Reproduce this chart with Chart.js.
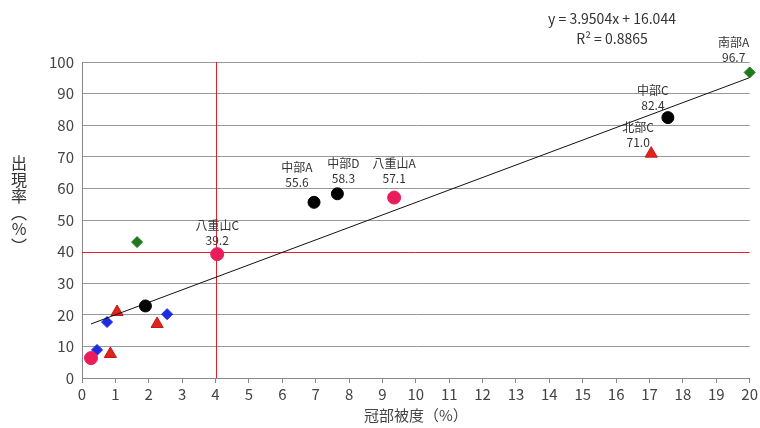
<!DOCTYPE html>
<html lang="ja">
<head>
  <meta charset="UTF-8">
  <title>冠部被度と出現率</title>
  <style>
    body { margin: 0; background: #fff; }
    #wrap { width: 760px; height: 428px; position: relative; }
  </style>
</head>
<body>
  <div id="wrap"><canvas id="scatter"></canvas></div>
  <script src="https://cdn.jsdelivr.net/npm/chart.js"></script>
  <script>
    // values
    const blackX = [1.9, 6.95, 7.65, 17.55];
    const blackY = [22.8, 55.6, 58.3, 82.4];
    const blackNames = ['', '中部A', '中部D', '中部C'];
    const pinkX = [0.27, 4.05, 9.35];
    const pinkY = [6.3, 39.2, 57.1];
    const pinkNames = ['', '八重山C', '八重山A'];
    const redX = [0.85, 1.05, 2.25, 17.05];
    const redY = [7.6, 20.9, 17.1, 71.0];
    const redNames = ['', '', '', '北部C'];
    const blueX = [0.45, 0.75, 2.55];
    const blueY = [8.9, 17.7, 20.2];
    const greenX = [1.65, 20];
    const greenY = [43.0, 96.7];
    const greenNames = ['', '南部A'];
    const slope = 3.9504, intercept = 16.044, r2 = 0.8865;
    const coverLine = 4, rateLine = 40;

    const FONT = '"Noto Sans CJK JP", "Noto Sans", sans-serif';
    const pts = (xs, ys) => xs.map((x, i) => ({ x: x, y: ys[i] }));
    const allX = [].concat(blackX, pinkX, redX, blueX, greenX);
    const x0 = Math.min(...allX), x1 = Math.max(...allX);

    // where each label sits relative to its point (px)
    const labelPos = {
      '南部A': [-16, -30], '中部C': [-15, -27], '北部C': [-13, -26],
      '中部A': [-17, -35], '中部D': [6, -30], '八重山A': [0, -34], '八重山C': [0, -29]
    };

    // red threshold lines, drawn under the marks
    const refLines = {
      id: 'refLines',
      beforeDatasetsDraw(chart) {
        const ctx = chart.ctx, xs = chart.scales.x, ys = chart.scales.y;
        ctx.save();
        ctx.strokeStyle = '#e0202a';
        ctx.lineWidth = 1;
        const vx = Math.round(xs.getPixelForValue(coverLine)) + 0.5;
        const hy = Math.round(ys.getPixelForValue(rateLine)) + 0.5;
        ctx.beginPath();
        ctx.moveTo(vx, ys.getPixelForValue(0));
        ctx.lineTo(vx, ys.getPixelForValue(100));
        ctx.moveTo(xs.getPixelForValue(0), hy);
        ctx.lineTo(xs.getPixelForValue(20), hy);
        ctx.stroke();
        ctx.restore();
      }
    };

    const pointLabels = {
      id: 'pointLabels',
      afterDatasetsDraw(chart) {
        const ctx = chart.ctx;
        ctx.save();
        ctx.fillStyle = '#333';
        ctx.textAlign = 'center';
        ctx.textBaseline = 'middle';
        ctx.font = '12px ' + FONT;
        chart.data.datasets.forEach((ds, di) => {
          if (!ds.names) return;
          chart.getDatasetMeta(di).data.forEach((el, i) => {
            const n = ds.names[i];
            if (!n) return;
            const off = labelPos[n] || [0, -28];
            ctx.fillText(n, el.x + off[0], el.y + off[1]);
            ctx.fillText(ds.data[i].y.toFixed(1), el.x + off[0], el.y + off[1] + 15);
          });
        });
        // regression text
        ctx.font = '14px ' + FONT;
        ctx.fillText('y = ' + slope + 'x + ' + intercept.toFixed(3), 612, 19);
        ctx.fillText('R² = ' + r2, 612, 39);
        // vertical y title
        ctx.font = '16px ' + FONT;
        ['出', '現', '率', '︵', '%', '︶'].forEach((c, i) => {
          ctx.fillText(c, 19, 163 + i * 16.5);
        });
        ctx.restore();
      }
    };

    new Chart(document.getElementById('scatter'), {
      type: 'scatter',
      data: {
        datasets: [
          { data: [{ x: x0, y: slope * x0 + intercept }, { x: x1, y: slope * x1 + intercept }], showLine: true, borderColor: '#111', borderWidth: 1, pointRadius: 0 },
          { data: pts(blackX, blackY), names: blackNames, pointStyle: 'circle', pointRadius: 6, backgroundColor: '#000', borderColor: '#000' },
          { data: pts(pinkX, pinkY), names: pinkNames, pointStyle: 'circle', pointRadius: 6.5, backgroundColor: '#ea1d5c', borderColor: '#ea1d5c' },
          { data: pts(redX, redY), names: redNames, pointStyle: 'triangle', pointRadius: 7, backgroundColor: '#e0231c', borderColor: '#c01818' },
          { data: pts(blueX, blueY), pointStyle: 'rectRot', pointRadius: 5.5, backgroundColor: '#1c2ce0', borderColor: '#1c2ce0' },
          { data: pts(greenX, greenY), names: greenNames, pointStyle: 'rectRot', pointRadius: 5.5, backgroundColor: '#1f7a1f', borderColor: '#1f7a1f', clip: false }
        ]
      },
      options: {
        responsive: true,
        maintainAspectRatio: false,
        animation: false,
        layout: { padding: { top: 62, right: 8, left: 0, bottom: 0 } },
        plugins: { legend: { display: false }, tooltip: { enabled: false } },
        scales: {
          x: {
            type: 'linear', min: 0, max: 20,
            ticks: { stepSize: 1, color: '#444', font: { family: FONT, size: 15 }, padding: 2 },
            grid: { drawOnChartArea: false, drawTicks: true, tickLength: 5, color: '#888' },
            border: { color: '#888' },
            title: { display: true, text: '冠部被度（%）', color: '#444', font: { family: FONT, size: 15 }, padding: { top: 2 } },
            afterFit(s) { s.height = 50; }
          },
          y: {
            min: 0, max: 100,
            ticks: { stepSize: 10, color: '#444', font: { family: FONT, size: 15 }, padding: 8 },
            grid: { color: c => (c.tick && c.tick.value === rateLine) ? 'rgba(0,0,0,0)' : '#999', drawTicks: false },
            border: { color: '#888' },
            afterFit(s) { s.width = 82; }
          }
        }
      },
      plugins: [refLines, pointLabels]
    });
  </script>
</body>
</html>
